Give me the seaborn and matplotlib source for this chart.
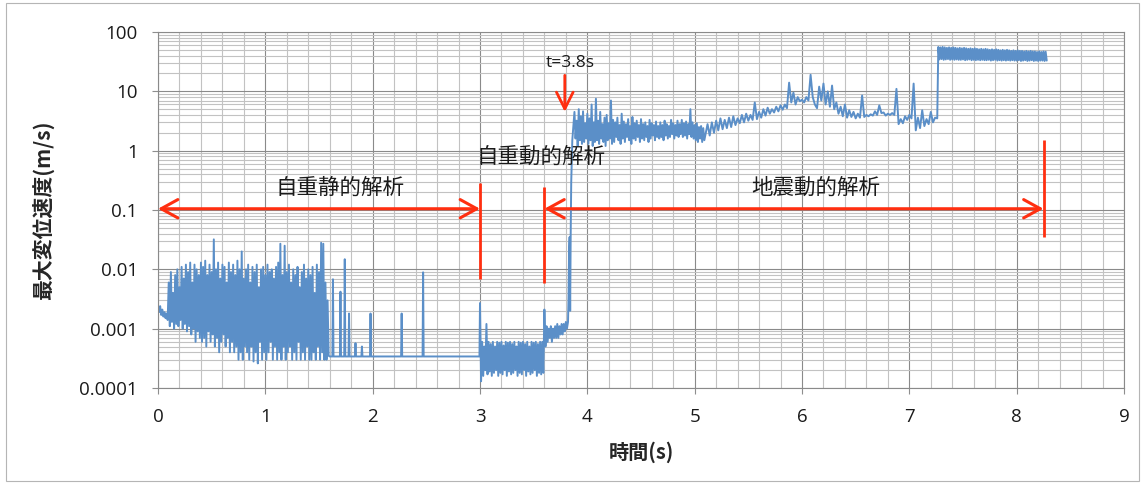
import numpy as np
import pandas as pd
import matplotlib
matplotlib.use("Agg")
import matplotlib.pyplot as plt
from matplotlib.patches import Rectangle
from matplotlib.ticker import FixedLocator, MultipleLocator, LogLocator, NullFormatter
import seaborn as sns

# ---------------- data ----------------
# quiet start of the static-gravity run (t = 0.00 .. 0.09 s, step 0.01)
quiet_v = [0.0022, 0.0019, 0.0024, 0.0017, 0.0021, 0.0016, 0.0019, 0.0015, 0.0018, 0.0014]

# static-gravity run: alternating peaks / troughs from t = 0.10 s, every 0.02 s
static_hi = [0.006, 0.009, 0.004, 0.008, 0.010, 0.005,
             0.011, 0.007, 0.012, 0.009, 0.013, 0.006, 0.012, 0.010, 0.008, 0.013,
             0.011, 0.014, 0.008, 0.012, 0.009, 0.032, 0.010, 0.013, 0.007, 0.012,
             0.011, 0.006, 0.013, 0.009, 0.012, 0.008, 0.014, 0.010, 0.020, 0.007,
             0.010, 0.012, 0.006, 0.011, 0.009, 0.012, 0.005, 0.010, 0.011, 0.008,
             0.012, 0.009, 0.010, 0.007, 0.011, 0.013, 0.027, 0.008, 0.025, 0.009,
             0.012, 0.006, 0.010, 0.008, 0.011, 0.005, 0.009, 0.012, 0.007, 0.010,
             0.008, 0.011, 0.004, 0.012, 0.009, 0.028, 0.027, 0.006, 0.003]
static_lo = [0.0011, 0.0013, 0.0010, 0.0012, 0.0011, 0.0014,
             0.0010, 0.0012, 0.0009, 0.0011, 0.0008, 0.0010, 0.0006, 0.0009, 0.0007, 0.0006,
             0.0007, 0.0005, 0.0009, 0.0006, 0.0008, 0.0005, 0.0007, 0.0004, 0.0006, 0.0008,
             0.0005, 0.0007, 0.0004, 0.0006, 0.0004, 0.0005, 0.0003, 0.0004, 0.0003, 0.0005,
             0.0004, 0.0003, 0.0005, 0.00028, 0.0004, 0.00026, 0.0006, 0.0003, 0.0004, 0.0003,
             0.0004, 0.0006, 0.0003, 0.0005, 0.0003, 0.0004, 0.0003, 0.0005, 0.0003, 0.0004,
             0.0005, 0.0003, 0.0004, 0.0003, 0.0006, 0.0003, 0.0004, 0.0003, 0.0005, 0.0003,
             0.0003, 0.0004, 0.0003, 0.0005, 0.0003, 0.0004, 0.0003, 0.0003, 0.00035]

# settled tail with isolated spikes
settle_t = [1.60, 1.625, 1.63, 1.635, 1.695, 1.70, 1.705, 1.735, 1.74, 1.745,
            1.775, 1.78, 1.785, 1.835, 1.84, 1.845, 1.895, 1.90, 1.905, 1.975,
            1.98, 1.985, 2.265, 2.27, 2.275, 2.465, 2.47, 2.475, 2.995]
settle_v = [0.00034, 0.00034, 0.0068, 0.00034, 0.00034, 0.0042, 0.00034, 0.00034, 0.0148, 0.00034,
            0.00034, 0.0018, 0.00034, 0.00034, 0.00057, 0.00034, 0.00034, 0.0005, 0.00034, 0.00034,
            0.0018, 0.00034, 0.00034, 0.0018, 0.00034, 0.00034, 0.0089, 0.00034, 0.00034]

# dynamic-gravity run from t = 3.00 s, every 0.02 s
dyn_hi = [0.0027, 0.0006, 0.0005, 0.0012, 0.0006, 0.00055, 0.0006, 0.0005, 0.0006, 0.00058,
          0.0006, 0.00052, 0.0006, 0.00058, 0.0006, 0.00055, 0.0006, 0.0005, 0.0006, 0.00058,
          0.0006, 0.00055, 0.0006, 0.0005, 0.0006, 0.00058, 0.0006, 0.00055, 0.0006, 0.0006]
dyn_lo = [0.00013, 0.00016, 0.0002, 0.00017, 0.00019, 0.00016, 0.00018, 0.0002, 0.00016, 0.00018,
          0.00017, 0.0002, 0.00016, 0.00019, 0.00017, 0.00018, 0.0002, 0.00016, 0.00018, 0.00017,
          0.0002, 0.00016, 0.00019, 0.00017, 0.00018, 0.0002, 0.00016, 0.00018, 0.00017, 0.00018]

# start of the earthquake input and the jump at t = 3.8 s
onset_t = [3.60, 3.61, 3.62, 3.63, 3.64, 3.65, 3.66, 3.67, 3.68, 3.69, 3.70, 3.71, 3.72,
           3.73, 3.74, 3.75, 3.76, 3.77, 3.78, 3.79, 3.80, 3.81, 3.82,
           3.825, 3.83, 3.835, 3.84, 3.845, 3.85, 3.86]
onset_v = [0.0021, 0.0005, 0.0011, 0.0006, 0.0010, 0.0007, 0.0011, 0.0006, 0.0010, 0.0007,
           0.0011, 0.0007, 0.0012, 0.0007, 0.0011, 0.0008, 0.0012, 0.0008, 0.0012, 0.0009,
           0.0013, 0.0010, 0.0013, 0.0035, 0.02, 0.035, 0.002, 0.04, 0.3, 1.5]

# earthquake run, first part: from t = 3.88 s, every 0.02 s
quake1_hi = [4.5, 3.2, 5.0, 3.8, 4.6, 2.9, 4.2, 3.5, 6.0, 3.0,
             7.5, 3.2, 4.5, 2.8, 3.6, 4.0, 2.9, 7.0, 3.3, 3.0,
             3.6, 2.7, 4.2, 3.1, 2.8, 3.4, 2.6, 3.7, 2.9, 3.2,
             2.7, 3.4, 2.8, 3.0, 2.6, 3.3, 2.9, 2.7, 3.1, 2.6,
             3.0, 2.7, 3.2, 2.8, 2.6, 3.3, 2.9, 2.7, 3.2, 2.8,
             3.3, 2.9, 3.1, 2.8, 5.0, 3.0, 2.7, 2.9, 2.5, 2.6, 2.4]
quake1_lo = [1.6, 1.2, 1.5, 1.3, 1.4, 1.6, 1.3, 1.5, 1.2, 1.4,
             1.5, 1.3, 1.6, 1.4, 1.2, 1.5, 1.6, 1.3, 1.4, 1.7,
             1.5, 1.3, 1.6, 1.4, 1.7, 1.5, 1.3, 1.6, 1.5, 1.7,
             1.4, 1.6, 1.5, 1.7, 1.4, 1.6, 1.8, 1.5, 1.7, 1.6,
             1.7, 1.5, 1.8, 1.6, 1.7, 1.9, 1.6, 1.8, 1.7, 1.9,
             1.7, 1.8, 1.6, 1.9, 1.7, 1.6, 1.5, 1.4, 1.6, 1.4, 1.5]

# earthquake run, second part: from t = 5.12 s, every 0.04 s
quake2_hi = [2.8, 3.0, 3.2, 3.5, 3.3, 3.6, 3.8, 3.5, 4.0,
             4.2, 4.0, 6.5, 4.5, 5.0, 5.3, 5.0, 5.5, 5.8, 6.0,
             14.0, 9.5, 8.0, 7.2, 8.0, 19.0, 6.0, 12.0, 13.5, 10.0,
             12.5, 6.5, 5.5, 6.0, 4.8, 4.5, 4.2, 8.5, 4.0, 4.1,
             4.6, 5.8, 4.4, 4.2, 4.3, 11.0, 3.4, 3.8, 4.0, 13.5,
             3.6, 4.8, 3.4, 4.5, 3.6]
quake2_lo = [1.8, 2.0, 2.2, 2.3, 2.4, 2.5, 2.7, 2.9, 3.0,
             3.2, 3.3, 3.4, 3.6, 3.9, 4.2, 4.4, 4.6, 4.9, 5.2,
             6.5, 6.0, 6.8, 6.5, 7.0, 8.0, 5.2, 7.0, 6.0, 5.5,
             5.0, 4.2, 3.8, 3.6, 3.7, 3.5, 3.6, 3.7, 3.8, 3.9,
             4.0, 4.3, 3.9, 4.0, 4.0, 2.8, 2.9, 3.3, 3.5, 2.2,
             2.4, 2.6, 2.8, 3.0, 3.5]

# final oscillating band from t = 7.27 s, every 0.02 s
band_hi = [56, 55, 56, 55, 54, 55, 54, 55, 54, 53,
           54, 53, 54, 53, 52, 53, 52, 53, 52, 51,
           52, 51, 52, 51, 50, 51, 50, 51, 50, 49,
           50, 49, 50, 49, 48, 49, 48, 49, 48, 48,
           47, 48, 47, 48, 47, 47, 46, 47, 46, 47,
           46.5]
band_lo = [34.5, 35, 34, 34.5, 35, 34, 34.5, 34, 34.5, 34,
           34, 34.5, 33.5, 34, 34.5, 33.5, 34, 33.5, 34, 33.5,
           34, 33.5, 33.5, 34, 33, 33.5, 34, 33, 33.5, 33,
           33.5, 33, 33.5, 33, 33.5, 33, 33, 33.5, 32.5, 33,
           33.5, 32.5, 33, 33.5, 32.5, 33, 32.5, 33, 33, 32.5,
           33]

# analysis phases
phase_static = (0.0, 3.0)
phase_quake = (3.6, 8.25)
phase_arrow_level = 0.105
phase_labels = ["自重静的解析", "自重動的解析", "地震動的解析"]
y_ticks = [0.0001, 0.001, 0.01, 0.1, 1, 10, 100]
y_tick_labels = ["0.0001", "0.001", "0.01", "0.1", "1", "10", "100"]
x_ticks = list(range(0, 10))


def alternate(t0, step, hi, lo):
    t, v = [], []
    for i, (h, l) in enumerate(zip(hi, lo)):
        t += [t0 + step * i, t0 + step * i + step / 2]
        v += [h, l]
    return t, v


parts = [
    ([round(0.01 * i, 2) for i in range(len(quiet_v))], quiet_v),
    alternate(0.10, 0.02, static_hi, static_lo),
    (settle_t, settle_v),
    alternate(3.00, 0.02, dyn_hi, dyn_lo),
    (onset_t, onset_v),
    alternate(3.88, 0.02, quake1_hi, quake1_lo),
    alternate(5.12, 0.04, quake2_hi, quake2_lo),
    alternate(7.27, 0.02, band_hi, band_lo),
]
t_all = np.concatenate([np.asarray(p[0], float) for p in parts])
v_all = np.concatenate([np.asarray(p[1], float) for p in parts])
df = pd.DataFrame({"時間": t_all, "速度": v_all})

# ---------------- figure ----------------
sns.set_theme(style="white")
plt.rcParams["font.family"] = ["Open Sans", "Noto Sans CJK JP", "DejaVu Sans"]
for k in ("xtick", "ytick"):
    plt.rcParams[f"{k}.major.size"] = 4.5
    plt.rcParams[f"{k}.major.width"] = 0.8
    plt.rcParams[f"{k}.major.pad"] = 10
    plt.rcParams[f"{k}.minor.size"] = 0
    plt.rcParams[f"{k}.color"] = "#8e8e8e"
    plt.rcParams[f"{k}.labelcolor"] = "#1a1a1a"
plt.rcParams["xtick.bottom"] = True
plt.rcParams["ytick.left"] = True
cjk = ["Noto Sans CJK JP", "DejaVu Sans"]

W, H = 1145, 484
fig = plt.figure(figsize=(W / 100, H / 100), dpi=100)
ax = fig.add_axes([158 / W, 1 - 388 / H, (1124 - 158) / W, (388 - 32) / H])

blue = "#5b8fc8"
red = "#ff2f10"

sns.lineplot(data=df, x="時間", y="速度", ax=ax, estimator=None, sort=False,
             color=blue, lw=1.4)

ax.set_yscale("log")
ax.set_ylim(1e-4, 100)
ax.set_xlim(0, 9)
ax.yaxis.set_major_locator(FixedLocator(y_ticks))
ax.set_yticklabels(y_tick_labels, fontsize=13.5)
ax.yaxis.set_minor_locator(LogLocator(base=10, subs=np.arange(2, 10)))
ax.yaxis.set_minor_formatter(NullFormatter())
ax.xaxis.set_major_locator(FixedLocator(x_ticks))
ax.set_xticklabels([str(x) for x in x_ticks], fontsize=13.5)
ax.xaxis.set_minor_locator(MultipleLocator(0.2))

ax.set_axisbelow(True)
ax.grid(which="major", color="#8a8a8a", lw=0.8)
ax.grid(which="minor", color="#c2c2c2", lw=0.8)
for s in ax.spines.values():
    s.set_color("#8a8a8a")
    s.set_linewidth(0.8)
ax.tick_params(which="major", direction="out", length=4.5, pad=10)
ax.tick_params(which="minor", length=0)

ax.set_xlabel("時間(s)", fontsize=14.5, fontweight="bold", family=cjk)
ax.set_ylabel("最大変位速度(m/s)", fontsize=15, fontweight="bold", family=cjk)
ax.xaxis.set_label_coords(0.5, (388 - 441) / 356)
ax.yaxis.set_label_coords((54 - 158) / 966, 0.5)

# phase arrows and boundary markers
arrow_style = "<->,head_length=1.0,head_width=0.55"
ax.annotate("", xy=(phase_static[0], phase_arrow_level), xytext=(phase_static[1], phase_arrow_level),
            arrowprops=dict(arrowstyle=arrow_style, color=red, lw=2.2, shrinkA=0, shrinkB=0))
ax.annotate("", xy=(phase_quake[0], phase_arrow_level), xytext=(phase_quake[1], phase_arrow_level),
            arrowprops=dict(arrowstyle=arrow_style, color=red, lw=2.2, shrinkA=0, shrinkB=0))
ax.plot([phase_static[1]] * 2, [0.0068, 0.28], color=red, lw=2.0, solid_capstyle="butt")
ax.plot([phase_quake[0]] * 2, [0.0059, 0.245], color=red, lw=2.0, solid_capstyle="butt")
ax.plot([phase_quake[1]] * 2, [0.035, 1.5], color=red, lw=2.0, solid_capstyle="butt")

ax.annotate("", xy=(3.79, 4.5), xytext=(3.79, 18.6),
            arrowprops=dict(arrowstyle="->,head_length=1.0,head_width=0.5", color=red, lw=2.0,
                            shrinkA=0, shrinkB=0))
ax.text(3.84, 30, "t=3.8s", ha="center", va="center", fontsize=12.5, color="#1a1a1a")

for x, y, label in zip([1.70, 3.57, 6.13], [0.234, 0.79, 0.234], phase_labels):
    ax.text(x, y, label, ha="center", va="center", fontsize=15.5, family=cjk, color="#1a1a1a")

# chart-area border
fig.patches.append(Rectangle((6 / W, 3 / H), (1139 - 6) / W, (481 - 3) / H, transform=fig.transFigure,
                             fill=False, edgecolor="#b5b5b5", lw=0.8))

fig.savefig("out.png", dpi=100, facecolor="white")
